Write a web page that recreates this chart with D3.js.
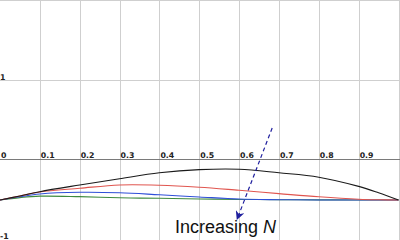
<!DOCTYPE html>
<html>
<head>
<meta charset="utf-8">
<script src="https://cdn.jsdelivr.net/npm/d3@7"></script>
<style>
  html, body { margin: 0; padding: 0; background: #fff; overflow: hidden; }
  svg { display: block; }
</style>
</head>
<body>
<svg id="chart"></svg>
<script>
// sample positions along x, and the four curves (top one first)
const xs      = [0, 0.05, 0.1, 0.2, 0.3, 0.4, 0.5, 0.6, 0.7, 0.8, 0.9, 0.95, 1];
const curveN1 = [-0.5, -0.45, -0.396, -0.3125, -0.234, -0.16, -0.12, -0.115, -0.16, -0.215, -0.33, -0.41, -0.5];
const curveN2 = [-0.5, -0.45, -0.40, -0.354, -0.312, -0.315, -0.34, -0.379, -0.42, -0.46, -0.49, -0.497, -0.5];
const curveN3 = [-0.5, -0.46, -0.425, -0.404, -0.41, -0.435, -0.462, -0.488, -0.496, -0.5, -0.5, -0.5, -0.5];
const curveN4 = [-0.5, -0.47, -0.452, -0.458, -0.472, -0.479, -0.487, -0.493, -0.496, -0.498, -0.5, -0.5, -0.5];
const seriesColors = ["#1a1a1a", "#e0554f", "#2f4fd8", "#3f8a3f"];

const xTicks = [0, 0.1, 0.2, 0.3, 0.4, 0.5, 0.6, 0.7, 0.8, 0.9];
const xTickLabels = ["0", "0.1", "0.2", "0.3", "0.4", "0.5", "0.6", "0.7", "0.8", "0.9"];
const xGrid = [0.1, 0.2, 0.3, 0.4, 0.5, 0.6, 0.7, 0.8, 0.9, 1];
const yGrid = [2, 1, -1];
const yTickLabels = [[1, "1"], [-1, "-1"]];

// annotation arrow (data units) + label
const arrowFrom = [0.683, 0.4];
const arrowTo = [0.595, -0.74];

const width = 400, height = 240;
const svg = d3.select("#chart").attr("width", width).attr("height", height);

const x = d3.scaleLinear().domain([0, 1]).range([0, 398.5]);
const y = d3.scaleLinear().domain([-1, 2]).range([240, 0]);

// grid
const grid = svg.append("g").attr("stroke", "#cfcfcf").attr("stroke-width", 1);
grid.selectAll("line.v")
    .data(xGrid)
    .enter().append("line")
    .attr("x1", d => Math.round(x(d)) + 0.5).attr("x2", d => Math.round(x(d)) + 0.5)
    .attr("y1", 0).attr("y2", height);
grid.selectAll("line.h")
    .data(yGrid)
    .enter().append("line")
    .attr("x1", 0).attr("x2", width)
    .attr("y1", d => Math.round(y(d)) + 0.5).attr("y2", d => Math.round(y(d)) + 0.5);

// x axis line at y = 0
svg.append("line")
    .attr("x1", 0).attr("x2", width)
    .attr("y1", Math.round(y(0)) - 0.5).attr("y2", Math.round(y(0)) - 0.5)
    .attr("stroke", "#7a7a7a").attr("stroke-width", 1);

// tick labels
const lbl = svg.append("g")
    .attr("font-family", "DejaVu Sans, Verdana, sans-serif")
    .attr("font-weight", "bold")
    .attr("font-size", 7.8)
    .attr("fill", "#222");
lbl.selectAll("text.x")
    .data(xTicks)
    .enter().append("text")
    .attr("x", d => x(d) + 1)
    .attr("y", y(0) - 2)
    .text((d, i) => xTickLabels[i]);
lbl.selectAll("text.y")
    .data(yTickLabels)
    .enter().append("text")
    .attr("x", 0)
    .attr("y", d => d[0] < 0 ? y(d[0]) - 1 : y(d[0]))
    .text(d => d[1]);

// curves
const line = d3.line()
    .x((d, i) => x(xs[i]))
    .y(d => y(d))
    .curve(d3.curveCatmullRom.alpha(0.5));

const allSeries = [curveN4, curveN3, curveN2, curveN1];
const allColors = seriesColors.slice().reverse();
svg.append("g").selectAll("path")
    .data(allSeries)
    .enter().append("path")
    .attr("d", line)
    .attr("fill", "none")
    .attr("stroke", (d, i) => allColors[i])
    .attr("stroke-width", 1.1);

// arrow
svg.append("defs").append("marker")
    .attr("id", "head")
    .attr("viewBox", "0 0 10 10")
    .attr("refX", 9).attr("refY", 5)
    .attr("markerWidth", 9).attr("markerHeight", 9)
    .attr("markerUnits", "userSpaceOnUse")
    .attr("orient", "auto")
    .append("path")
    .attr("d", "M0,0 L10,5 L0,10 L3,5 Z")
    .attr("fill", "#1f1f9e");

svg.append("line")
    .attr("x1", x(arrowFrom[0])).attr("y1", y(arrowFrom[1]))
    .attr("x2", x(arrowTo[0])).attr("y2", y(arrowTo[1]))
    .attr("stroke", "#1f1f9e")
    .attr("stroke-width", 1.2)
    .attr("stroke-dasharray", "4,3")
    .attr("marker-end", "url(#head)");

const t = svg.append("text")
    .attr("x", 175).attr("y", 233)
    .attr("font-family", "Liberation Sans, Arial, Helvetica, sans-serif")
    .attr("font-size", 18)
    .attr("fill", "#111");
t.append("tspan").text("Increasing ");
t.append("tspan").attr("font-style", "italic").text("N");
</script>
</body>
</html>
